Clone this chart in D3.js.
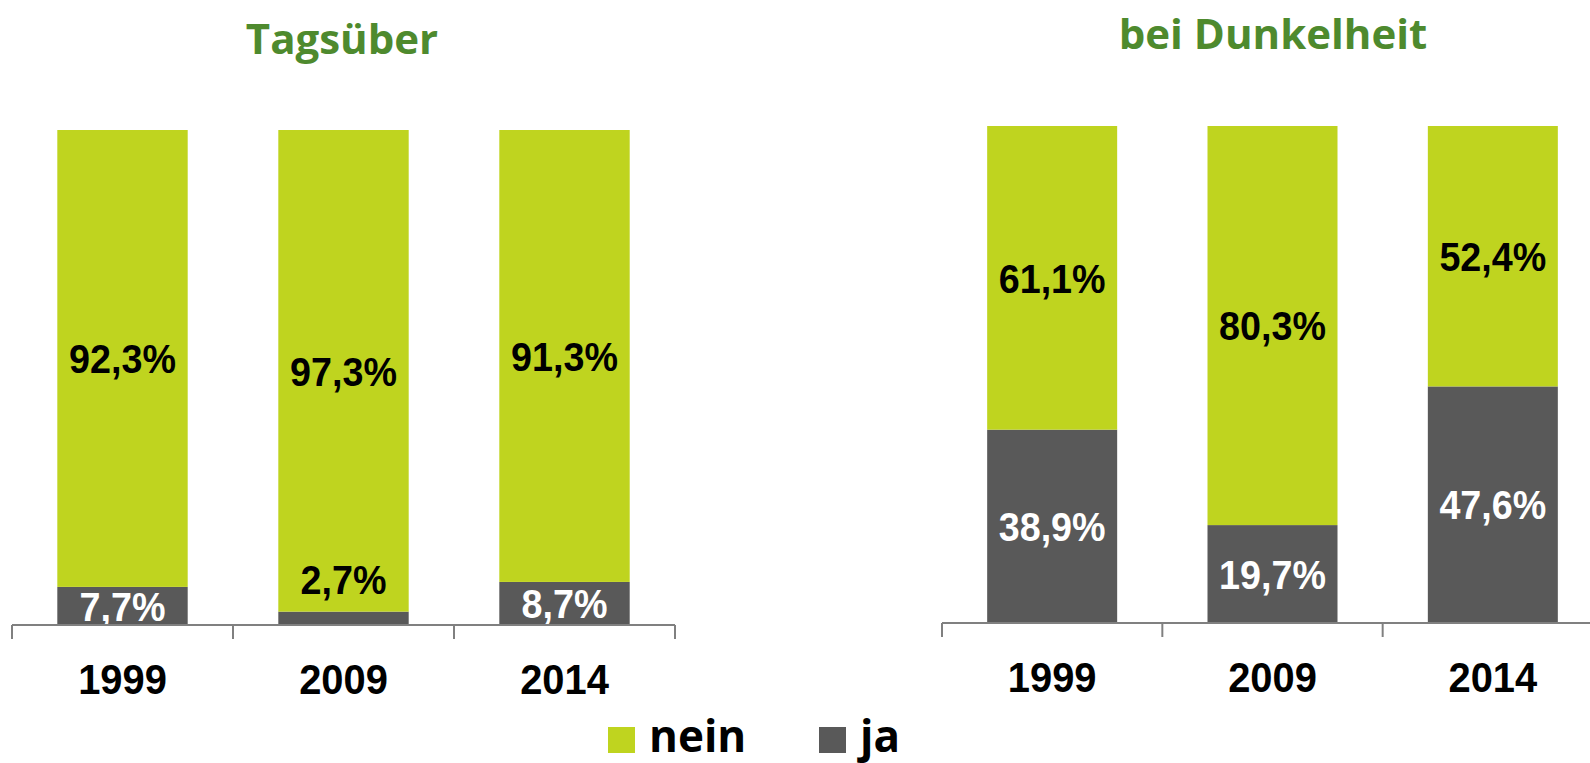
<!DOCTYPE html>
<html>
<head>
<meta charset="utf-8">
<script src="https://cdn.jsdelivr.net/npm/d3@7"></script>
<style>
  html, body { margin: 0; padding: 0; background: #fff; }
  svg { display: block; }
  .num { font-family: "Liberation Sans", Arial, sans-serif; font-weight: bold; }
  .title, .legend { font-family: "Open Sans", "Noto Sans", sans-serif; font-weight: bold; }
</style>
</head>
<body>
<div id="chart"></div>
<script>
// --- data ---
const years = ["1999", "2009", "2014"];
const keys = ["ja", "nein"];
const dayJa = [7.7, 2.7, 8.7];
const dayNein = [92.3, 97.3, 91.3];
const darkJa = [38.9, 19.7, 47.6];
const darkNein = [61.1, 80.3, 52.4];
const titles = ["Tagsüber", "bei Dunkelheit"];
const legendLabels = ["nein", "ja"];

const color = { nein: "#bfd41f", ja: "#595959" };
const W = 1590, H = 763;

const svg = d3.select("#chart").append("svg")
  .attr("width", W).attr("height", H);

const panels = [
  { title: titles[0], ja: dayJa, nein: dayNein, x0: 12, x1: 675, top: 130, bottom: 625, titleX: 342, titleY: 54 },
  { title: titles[1], ja: darkJa, nein: darkNein, x0: 942, x1: 1603, top: 126, bottom: 623, titleX: 1273, titleY: 49 }
];

const pIn = 0.41;
const fmt = v => d3.format(".1f")(v).replace(".", ",") + "%";

panels.forEach(p => {
  const rows = years.map((yr, i) => ({ year: yr, ja: p.ja[i], nein: p.nein[i] }));
  const stacked = d3.stack().keys(keys)(rows);

  const x = d3.scaleBand().domain(years).range([p.x0, p.x1])
    .paddingInner(pIn).paddingOuter(pIn / 2);
  const y = d3.scaleLinear().domain([0, 100]).range([p.bottom, p.top]);

  const g = svg.append("g");

  g.append("text").attr("class", "title")
    .attr("x", p.titleX).attr("y", p.titleY)
    .attr("text-anchor", "middle")
    .attr("font-size", 42).attr("fill", "#4e8a2e")
    .text(p.title);

  // bars
  const layers = g.selectAll("g.layer").data(stacked).join("g")
    .attr("class", "layer").attr("fill", d => color[d.key]);
  layers.selectAll("rect").data(d => d).join("rect")
    .attr("x", d => x(d.data.year))
    .attr("width", x.bandwidth())
    .attr("y", d => y(d[1]))
    .attr("height", d => y(d[0]) - y(d[1]));

  // value labels (condensed look via horizontal scale)
  stacked.forEach(layer => {
    layer.forEach(d => {
      const h = y(d[0]) - y(d[1]);
      const small = h < 30;
      const cx = x(d.data.year) + x.bandwidth() / 2;
      const cy = small ? y(d[1]) - 32 : (y(d[0]) + y(d[1])) / 2;
      g.append("text").attr("class", "num")
        .attr("transform", `translate(${cx},${cy}) scale(0.92,1)`)
        .attr("dy", "0.36em")
        .attr("text-anchor", "middle")
        .attr("font-size", 41)
        .attr("fill", layer.key === "ja" && !small ? "#fff" : "#000")
        .text(fmt(d.data[layer.key]));
    });
  });

  // axis: line + ticks at band boundaries
  const axisY = p.bottom;
  g.append("line")
    .attr("x1", p.x0).attr("x2", p.x1)
    .attr("y1", axisY).attr("y2", axisY)
    .attr("stroke", "#808080").attr("stroke-width", 2);
  const bounds = d3.range(years.length + 1).map(i => p.x0 + i * x.step());
  g.selectAll("line.tick").data(bounds).join("line")
    .attr("class", "tick")
    .attr("x1", d => d).attr("x2", d => d)
    .attr("y1", axisY).attr("y2", axisY + 14)
    .attr("stroke", "#808080").attr("stroke-width", 2);

  const xAxis = g.append("g").attr("transform", `translate(0,${axisY})`)
    .call(d3.axisBottom(x).tickSize(0).tickPadding(0));
  xAxis.select(".domain").remove();
  xAxis.selectAll("text")
    .attr("class", "num")
    .attr("y", null).attr("dy", "0.36em")
    .attr("transform", "translate(0,54) scale(0.95,1)")
    .attr("font-size", 42).attr("fill", "#000");
});

// legend
const legend = svg.append("g").attr("class", "legend");
const legX = [608, 819];
legendLabels.forEach((k, i) => {
  legend.append("rect")
    .attr("x", legX[i]).attr("y", 727).attr("width", 27).attr("height", 26)
    .attr("fill", color[k]);
  legend.append("text").attr("class", "legend")
    .attr("x", legX[i] + 41).attr("y", 752)
    .attr("font-size", 44).attr("fill", "#000")
    .text(k);
});
</script>
</body>
</html>
